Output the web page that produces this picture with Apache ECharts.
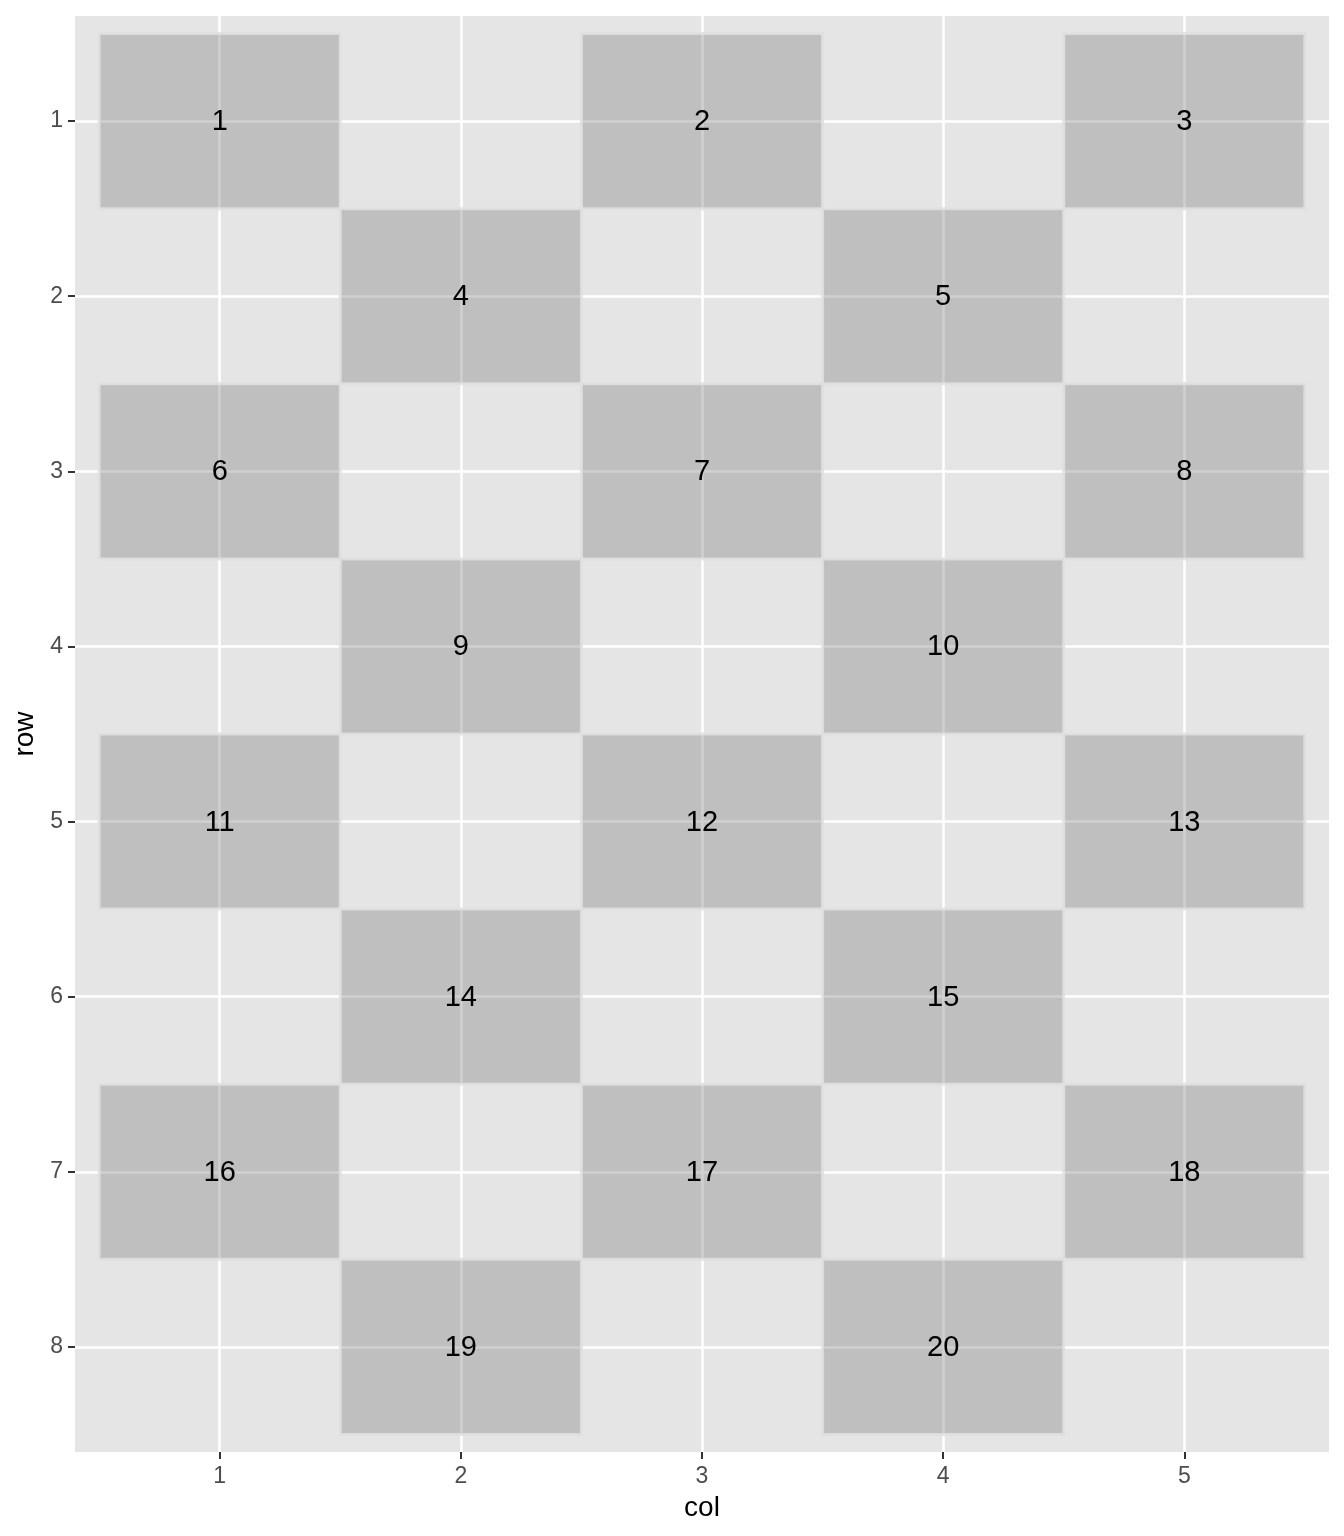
<!DOCTYPE html>
<html>
<head>
<meta charset="utf-8">
<script src="https://cdn.jsdelivr.net/npm/echarts@6/dist/echarts.min.js"></script>
<style>
  html, body { margin: 0; padding: 0; background: #fff; }
  #chart { width: 1344px; height: 1536px; }
</style>
</head>
<body>
<div id="chart"></div>
<script>
// tile data: column, row and label of each filled tile
var tileCols = [1, 3, 5, 2, 4, 1, 3, 5, 2, 4, 1, 3, 5, 2, 4, 1, 3, 5, 2, 4];
var tileRows = [1, 1, 1, 2, 2, 3, 3, 3, 4, 4, 5, 5, 5, 6, 6, 7, 7, 7, 8, 8];
var tileLabels = [1, 2, 3, 4, 5, 6, 7, 8, 9, 10, 11, 12, 13, 14, 15, 16, 17, 18, 19, 20];
var colTicks = [1, 2, 3, 4, 5];
var rowTicks = [1, 2, 3, 4, 5, 6, 7, 8];

var font = '"Liberation Sans", Arial, Helvetica, sans-serif';

function drawTiles() {
    var myChart = echarts.init(document.getElementById('chart'));

    var option = {
        backgroundColor: '#ffffff',
        animation: false,
        grid: {
            left: 75,
            right: 15,
            top: 16,
            bottom: 84,
            show: true,
            backgroundColor: '#e5e5e5',
            borderWidth: 0
        },
        xAxis: {
            type: 'value',
            min: 0.4,
            max: 5.6,
            name: 'col',
            nameLocation: 'middle',
            nameGap: 42,
            nameTextStyle: { color: '#000', fontSize: 28, fontFamily: font },
            axisLine: { show: false },
            axisTick: {
                show: true,
                length: 7,
                customValues: colTicks,
                lineStyle: { color: '#333', width: 2 }
            },
            axisLabel: {
                customValues: colTicks,
                color: '#4d4d4d',
                fontSize: 23,
                fontFamily: font,
                margin: 13
            },
            splitLine: { show: true, lineStyle: { color: '#ffffff', width: 2.5 } }
        },
        yAxis: {
            type: 'value',
            inverse: true,
            min: 0.4,
            max: 8.6,
            name: 'row',
            nameLocation: 'middle',
            nameGap: 36,
            nameRotate: 90,
            nameTextStyle: { color: '#000', fontSize: 28, fontFamily: font },
            axisLine: { show: false },
            axisTick: {
                show: true,
                length: 7,
                customValues: rowTicks,
                lineStyle: { color: '#333', width: 2 }
            },
            axisLabel: {
                customValues: rowTicks,
                color: '#4d4d4d',
                fontSize: 23,
                fontFamily: font,
                margin: 12
            },
            splitLine: { show: true, lineStyle: { color: '#ffffff', width: 2.5 } }
        },
        series: [{
            type: 'custom',
            data: tileCols.map(function (c, i) {
                return [c, tileRows[i], tileLabels[i]];
            }),
            encode: { x: 0, y: 1 },
            renderItem: function (params, api) {
                var center = api.coord([api.value(0), api.value(1)]);
                var size = api.size([1, 1]);
                return {
                    type: 'group',
                    children: [{
                        type: 'rect',
                        shape: {
                            x: center[0] - size[0] / 2,
                            y: center[1] - size[1] / 2,
                            width: size[0],
                            height: size[1]
                        },
                        style: {
                            fill: 'rgba(128,128,128,0.37)',
                            stroke: 'rgba(225,225,225,0.85)',
                            lineWidth: 3
                        }
                    }, {
                        type: 'text',
                        style: {
                            x: center[0],
                            y: center[1] + 1,
                            text: String(api.value(2)),
                            fill: '#000',
                            font: '29px ' + font,
                            align: 'center',
                            verticalAlign: 'middle'
                        }
                    }]
                };
            }
        }]
    };

    myChart.setOption(option);
}

drawTiles();
</script>
</body>
</html>
